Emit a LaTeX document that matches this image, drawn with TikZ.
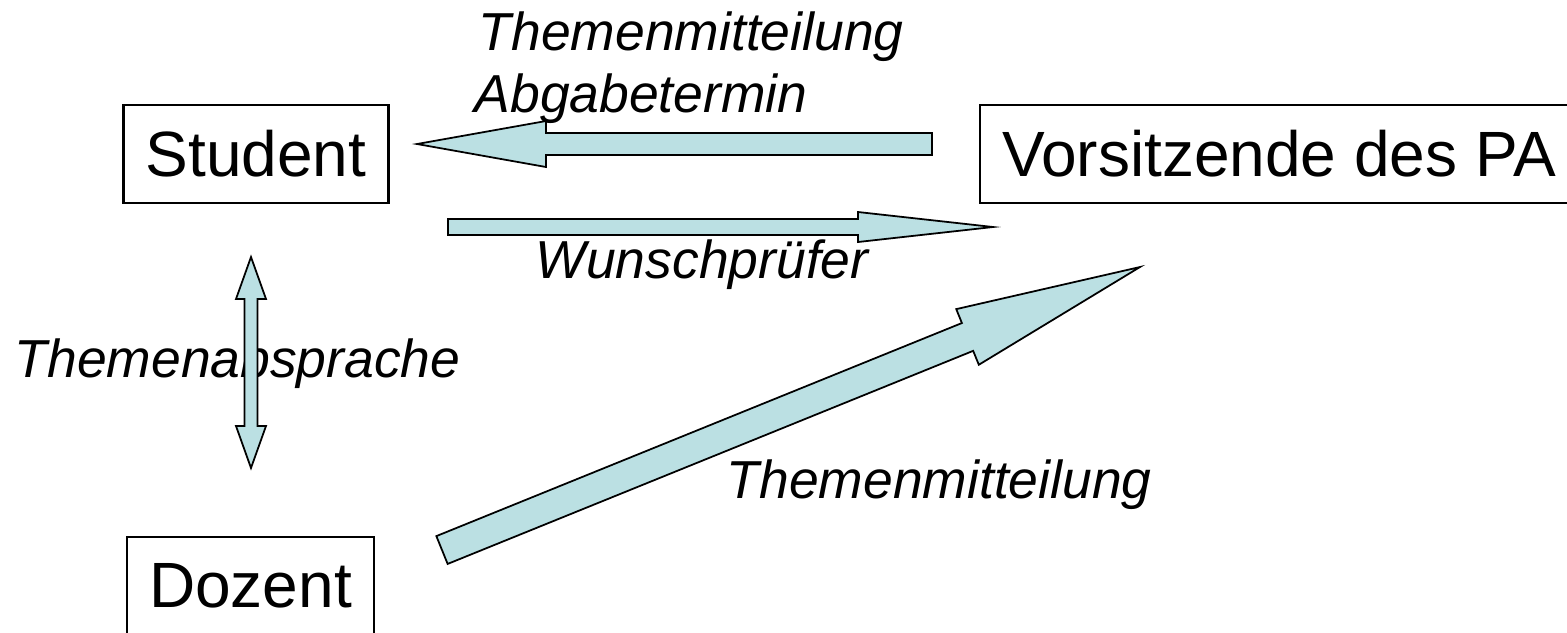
\documentclass[tikz,border=0pt]{standalone}
\usepackage{fontspec}
\setmainfont{Liberation Sans}
\usetikzlibrary{calc}

\definecolor{pfeilblau}{RGB}{187,224,227}

\tikzset{
  kasten/.style={draw, line width=0.7pt, inner xsep=0.22cm, inner ysep=0pt,
    minimum height=0.98cm, font=\fontsize{18.2}{20}\selectfont},
  beschriftung/.style={inner sep=0pt, anchor=base west,
    font=\fontsize{15.2}{17}\selectfont\itshape},
  pfeil/.style={draw, fill=pfeilblau, line width=0.5pt, line join=miter}
}

% Blockpfeil: Ende, Spitze, halbe Schaftbreite, halbe Kopfbreite, Kopflaenge
\newcommand{\blockpfeil}[5]{%
  \coordinate (hb) at ($(#2)!#5!(#1)$);
  \draw[pfeil] ($(#1)!#3!90:(#2)$) -- ($(hb)!#3!-90:(#1)$) -- ($(hb)!#4!-90:(#1)$)
    -- (#2) -- ($(hb)!#4!90:(#1)$) -- ($(hb)!#3!90:(#1)$) -- ($(#1)!#3!-90:(#2)$) -- cycle;
}
% Doppelpfeil: Spitze, Spitze, halbe Schaftbreite, halbe Kopfbreite, Kopflaenge
\newcommand{\doppelpfeil}[5]{%
  \coordinate (ha) at ($(#1)!#5!(#2)$);
  \coordinate (hb) at ($(#2)!#5!(#1)$);
  \draw[pfeil] (#1) -- ($(ha)!#4!90:(#2)$) -- ($(ha)!#3!90:(#2)$) -- ($(hb)!#3!-90:(#1)$)
    -- ($(hb)!#4!-90:(#1)$) -- (#2) -- ($(hb)!#4!90:(#1)$) -- ($(hb)!#3!90:(#1)$)
    -- ($(ha)!#3!-90:(#2)$) -- ($(ha)!#4!-90:(#2)$) -- cycle;
}

\begin{document}
\begin{tikzpicture}[x=0.01cm, y=-0.01cm]
    \useasboundingbox (0,0) rectangle (1567,632);
    \clip (0,0) rectangle (1567,632);

    % Kaesten
    \node[kasten] (student) at (256,154) {Student};
    \node[kasten] (vorsitz) at (1279,154) {Vorsitzende des PA};
    \node[kasten] (dozent) at (250.5,586) {Dozent};

    % Beschriftungen
    \node[beschriftung] (mitteilung1) at (478,50) {Themenmitteilung};
    \node[beschriftung] (termin) at (474,112) {Abgabetermin};
    \node[beschriftung] (wunsch) at (535,278) {Wunschprüfer};
    \node[beschriftung] (absprache) at (14,377) {Themenabsprache};
    \node[beschriftung] (mitteilung2) at (726,498) {Themenmitteilung};

    % Endpunkte der Pfeile
    \coordinate (vs-ende) at (932,144);
    \coordinate (vs-spitze) at (417,144);
    \coordinate (sv-ende) at (448,227);
    \coordinate (sv-spitze) at (993,227);
    \coordinate (sd-oben) at (251,257);
    \coordinate (sd-unten) at (251,468);
    \coordinate (dv-ende) at (442,550);
    \coordinate (dv-spitze) at (1140,267);

    % Pfeile
    \blockpfeil{vs-ende}{vs-spitze}{0.11cm}{0.23cm}{1.29cm}
    \blockpfeil{sv-ende}{sv-spitze}{0.08cm}{0.15cm}{1.35cm}
    \doppelpfeil{sd-oben}{sd-unten}{0.065cm}{0.15cm}{0.42cm}
    \blockpfeil{dv-ende}{dv-spitze}{0.15cm}{0.30cm}{1.86cm}
\end{tikzpicture}
\end{document}
